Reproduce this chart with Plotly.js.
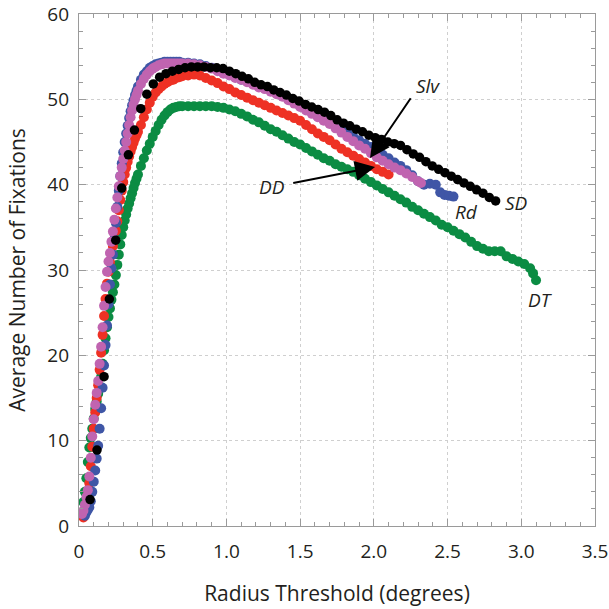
<!DOCTYPE html>
<html>
<head>
<meta charset="utf-8">
<script src="https://cdn.plot.ly/plotly-3.0.1.min.js"></script>
<style>html,body{margin:0;padding:0;background:#fff;}#chart{width:609px;height:609px;}</style>
</head>
<body>
<div id="chart"></div>
<script>
// ---- Data ----
const xDT = [0.02,0.03,0.04,0.05,0.06,0.07,0.08,0.09,0.10,0.11,0.12,0.13,0.14,0.15,0.16,0.17,0.18,0.19,0.20,0.21,0.22,0.23,0.24,0.25,0.26,0.27,0.28,0.29,0.30,0.31,0.32,0.33,0.34,0.35,0.36,0.37,0.38,0.39,0.40,0.42,0.44,0.46,0.48,0.50,0.52,0.54,0.56,0.58,0.60,0.62,0.64,0.66,0.68,0.70,0.74,0.78,0.82,0.86,0.90,0.94,0.98,1.02,1.06,1.10,1.14,1.18,1.22,1.26,1.30,1.34,1.38,1.42,1.46,1.50,1.54,1.58,1.62,1.66,1.70,1.74,1.78,1.82,1.86,1.90,1.94,1.98,2.02,2.06,2.10,2.14,2.18,2.22,2.26,2.30,2.34,2.38,2.42,2.46,2.50,2.54,2.58,2.62,2.66,2.70,2.74,2.78,2.82,2.86,2.90,2.94,2.98,3.02,3.06,3.08,3.10];
const yDT = [1.5,2.8,4.0,5.6,7.5,9.2,10.3,11.4,12.6,13.7,14.6,15.5,16.4,17.5,19.0,20.6,22.0,23.3,24.5,25.5,26.5,27.4,28.3,29.4,30.6,31.8,33.0,34.1,35.0,35.8,36.5,37.2,37.8,38.4,39.0,39.6,40.2,40.7,41.2,42.2,43.1,44.0,44.8,45.6,46.3,47.0,47.6,48.1,48.5,48.8,49.0,49.1,49.2,49.2,49.2,49.2,49.2,49.2,49.2,49.1,49.0,48.8,48.6,48.3,48.0,47.6,47.3,46.9,46.5,46.2,45.8,45.4,45.0,44.7,44.3,43.9,43.5,43.1,42.8,42.4,42.1,41.8,41.5,41.1,40.7,40.3,39.9,39.5,39.1,38.7,38.3,37.9,37.4,37.0,36.6,36.2,35.8,35.3,35.0,34.6,34.2,33.8,33.3,32.8,32.5,32.2,32.2,32.2,31.6,31.3,31.0,30.7,30.2,29.6,28.8];

const xDD = [0.03,0.04,0.05,0.06,0.07,0.08,0.09,0.10,0.11,0.12,0.13,0.14,0.15,0.16,0.17,0.18,0.19,0.20,0.21,0.22,0.23,0.24,0.25,0.26,0.27,0.28,0.29,0.30,0.31,0.32,0.33,0.34,0.35,0.36,0.37,0.38,0.39,0.40,0.42,0.44,0.46,0.48,0.50,0.52,0.54,0.56,0.58,0.60,0.62,0.64,0.66,0.68,0.70,0.74,0.78,0.82,0.86,0.90,0.94,0.98,1.02,1.06,1.10,1.14,1.18,1.22,1.26,1.30,1.34,1.38,1.42,1.46,1.50,1.54,1.58,1.62,1.66,1.70,1.74,1.78,1.82,1.86,1.90,1.94,1.98,2.02,2.06,2.10];
const yDD = [1.0,1.8,2.6,3.6,5.0,7.0,9.3,11.4,13.3,15.0,16.5,18.3,20.3,22.4,24.6,26.6,28.4,29.8,30.9,31.9,32.8,33.6,34.6,35.7,37.0,38.2,39.3,40.3,41.2,42.0,42.7,43.3,43.9,44.4,44.9,45.4,45.8,46.2,47.0,47.9,48.8,49.6,50.3,50.8,51.2,51.5,51.8,52.0,52.2,52.3,52.5,52.6,52.7,52.8,52.9,52.8,52.5,52.2,51.9,51.5,51.2,50.8,50.5,50.2,49.9,49.6,49.3,49.0,48.7,48.4,48.1,47.8,47.5,47.0,46.5,46.0,45.6,45.2,44.7,44.2,43.8,43.4,43.0,42.6,42.2,41.8,41.5,41.2];

const xRd = [0.04,0.05,0.06,0.07,0.08,0.09,0.10,0.11,0.12,0.13,0.14,0.15,0.16,0.17,0.18,0.19,0.20,0.21,0.22,0.23,0.24,0.25,0.26,0.27,0.28,0.29,0.30,0.31,0.32,0.33,0.34,0.35,0.36,0.37,0.38,0.39,0.40,0.42,0.44,0.46,0.48,0.50,0.52,0.54,0.56,0.58,0.60,0.62,0.64,0.66,0.68,0.70,0.74,0.78,0.82,0.86,0.90,0.94,0.98,1.02,1.06,1.10,1.14,1.18,1.22,1.26,1.30,1.34,1.38,1.42,1.46,1.50,1.54,1.58,1.62,1.66,1.70,1.74,1.78,1.82,1.86,1.90,1.94,1.98,2.02,2.06,2.10,2.14,2.18,2.22,2.26,2.30,2.34,2.38,2.42,2.45,2.48,2.51,2.54];
const yRd = [1.2,1.6,1.9,2.2,2.9,4.0,5.2,6.5,7.9,9.4,11.4,13.8,16.2,18.8,21.2,23.5,26.0,28.3,30.2,31.8,33.6,35.5,37.4,39.3,41.0,42.5,43.8,45.0,46.0,46.9,47.8,48.6,49.3,49.9,50.5,51.0,51.5,52.3,52.9,53.3,53.7,53.9,54.1,54.2,54.3,54.4,54.4,54.4,54.4,54.4,54.4,54.3,54.3,54.2,54.1,53.9,53.7,53.4,53.1,52.9,52.6,52.3,52.1,51.8,51.5,51.3,51.0,50.7,50.4,50.0,49.6,49.2,48.8,48.4,48.0,47.7,47.3,47.0,46.6,46.1,45.6,45.2,44.8,44.4,44.0,43.5,43.1,42.6,42.2,41.7,41.1,40.4,40.0,40.1,40.0,39.1,38.8,38.7,38.6];

const xSlv = [0.02,0.03,0.04,0.05,0.06,0.07,0.08,0.09,0.10,0.11,0.12,0.13,0.14,0.15,0.16,0.17,0.18,0.19,0.20,0.21,0.22,0.23,0.24,0.25,0.26,0.27,0.28,0.29,0.30,0.31,0.32,0.33,0.34,0.35,0.36,0.37,0.38,0.39,0.40,0.42,0.44,0.46,0.48,0.50,0.52,0.54,0.56,0.58,0.60,0.62,0.64,0.66,0.68,0.70,0.74,0.78,0.82,0.86,0.90,0.94,0.98,1.02,1.06,1.10,1.14,1.18,1.22,1.26,1.30,1.34,1.38,1.42,1.46,1.50,1.54,1.58,1.62,1.66,1.70,1.74,1.78,1.82,1.86,1.90,1.94,1.98,2.02,2.06,2.10,2.14,2.18,2.22,2.26,2.30,2.32];
const ySlv = [1.4,1.8,2.5,3.4,4.2,5.8,8.0,10.5,12.5,14.2,15.6,17.0,19.0,21.0,23.3,25.8,28.0,29.8,31.0,32.0,33.3,34.5,35.9,37.2,38.5,39.8,41.0,42.0,43.0,44.0,45.0,46.0,47.0,47.9,48.7,49.4,50.0,50.5,51.0,51.8,52.4,52.9,53.3,53.6,53.8,54.0,54.1,54.2,54.2,54.2,54.2,54.2,54.2,54.2,54.2,54.1,54.0,53.8,53.6,53.3,53.0,52.8,52.5,52.3,52.0,51.7,51.4,51.2,50.9,50.6,50.3,49.9,49.5,49.1,48.7,48.3,47.9,47.5,47.1,46.6,46.1,45.6,45.1,44.6,44.2,43.7,43.2,42.8,42.4,42.0,41.7,41.3,40.9,40.4,40.2];

const xSD = [0.075,0.122,0.170,0.206,0.249,0.290,0.335,0.376,0.419,0.460,0.504,0.547,0.590,0.633,0.676,0.719,0.762,0.805,0.848,0.891,0.934,0.977,1.020,1.063,1.106,1.149,1.192,1.235,1.278,1.321,1.364,1.407,1.450,1.493,1.536,1.579,1.622,1.665,1.708,1.751,1.794,1.837,1.880,1.923,1.966,2.009,2.052,2.095,2.138,2.181,2.224,2.267,2.310,2.353,2.396,2.439,2.482,2.525,2.568,2.611,2.654,2.697,2.740,2.783,2.826];
const ySD = [3.1,8.9,17.5,26.6,33.5,39.6,43.5,46.4,48.9,50.6,51.8,52.6,53.0,53.3,53.5,53.7,53.8,53.8,53.8,53.7,53.7,53.6,53.3,53.0,52.7,52.4,52.0,51.7,51.5,51.1,50.8,50.5,50.1,49.8,49.4,49.1,48.8,48.5,48.1,47.6,47.2,46.9,46.5,46.2,45.8,45.5,45.3,45.0,44.8,44.6,44.1,43.6,43.2,42.7,42.2,41.8,41.4,41.0,40.6,40.2,39.8,39.4,39.0,38.5,38.1];

const xTickVals = [0,0.5,1.0,1.5,2.0,2.5,3.0,3.5];
const xTickText = ['0','0.5','1.0','1.5','2.0','2.5','3.0','3.5'];
const yTickVals = [0,10,20,30,40,50,60];
const yTickText = ['0','10','20','30','40','50','60'];

const seriesNames = ['DT','DD','Rd','Slv','SD'];
const seriesColors = ['#0b8c43','#ee3124','#3f56a6','#c064b0','#000000'];
const seriesSizes = [10,10,10,10,9.5];

// ---- Chart ----
const xs = [xDT,xDD,xRd,xSlv,xSD];
const ys = [yDT,yDD,yRd,ySlv,ySD];
const traces = xs.map((x,i)=>({
  type:'scatter', mode:'markers', name:seriesNames[i], x:x, y:ys[i],
  marker:{color:seriesColors[i], size:seriesSizes[i], line:{width:0}},
  hoverinfo:'x+y+name'
}));

const axisCommon = {
  ticks:'inside', ticklen:7, tickwidth:1, tickcolor:'#9a9a9a',
  showline:true, linecolor:'#9a9a9a', linewidth:1.2, mirror:'allticks',
  showgrid:true, gridcolor:'#cfcfcf', griddash:'dot', gridwidth:1,
  zeroline:false, automargin:false,
  tickfont:{size:19, color:'#231f20'}
};

const lblFont = {size:19, color:'#231f20', family:'Open Sans, sans-serif'};
const annotations = [
  {x:2.368, y:51.56, text:'<i>Slv</i>', showarrow:false, font:lblFont},
  {x:1.306, y:39.67, text:'<i>DD</i>', showarrow:false, font:lblFont},
  {x:2.63, y:36.74, text:'<i>Rd</i>', showarrow:false, font:lblFont},
  {x:2.968, y:37.91, text:'<i>SD</i>', showarrow:false, font:lblFont},
  {x:3.132, y:26.48, text:'<i>DT</i>', showarrow:false, font:lblFont},
  {x:1.974, y:43.12, ax:41.7, ay:-61.3, text:'', showarrow:true, arrowhead:2, arrowsize:2, arrowwidth:2, arrowcolor:'#000', standoff:0},
  {x:2.008, y:42.07, ax:-83.3, ay:16.3, text:'', showarrow:true, arrowhead:2, arrowsize:2, arrowwidth:2, arrowcolor:'#000', standoff:0}
];

const layout = {
  width:609, height:609,
  margin:{l:79, r:14, t:14, b:83, pad:0},
  paper_bgcolor:'#ffffff', plot_bgcolor:'#ffffff',
  showlegend:false,
  font:{family:'Open Sans, sans-serif', color:'#231f20'},
  xaxis:Object.assign({}, axisCommon, {
    range:[0,3.5], tickmode:'array', tickvals:xTickVals, ticktext:xTickText,
    ticklabelstandoff:8,
    minor:{tickmode:'linear', tick0:0, dtick:0.1, ticks:'inside', ticklen:4, tickcolor:'#9a9a9a', showgrid:false},
    title:{text:'Radius Threshold (degrees)', font:{size:21, color:'#231f20'}, standoff:23}
  }),
  yaxis:Object.assign({}, axisCommon, {
    range:[0,60], tickmode:'array', tickvals:yTickVals, ticktext:yTickText,
    ticklabelstandoff:5,
    minor:{tickmode:'linear', tick0:0, dtick:2, ticks:'inside', ticklen:4, tickcolor:'#9a9a9a', showgrid:false},
    title:{text:'Average Number of Fixations', font:{size:21, color:'#231f20'}, standoff:16}
  }),
  annotations:annotations
};

Plotly.newPlot('chart', traces, layout, {displayModeBar:false, staticPlot:true});
</script>
</body>
</html>
